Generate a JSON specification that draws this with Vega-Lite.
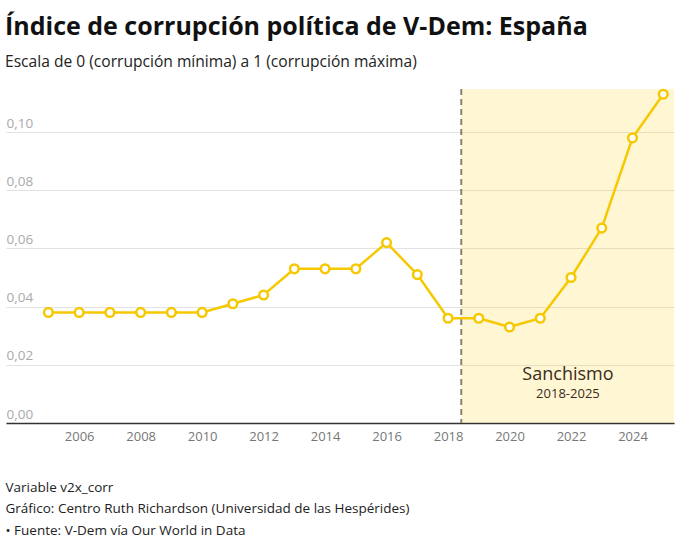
{
  "$schema": "https://vega.github.io/schema/vega-lite/v6.json",
  "autosize": {"type": "none"},
  "width": 668,
  "height": 334,
  "padding": {"left": 6, "top": 89, "right": 6, "bottom": 121},
  "background": "white",
  "config": {
    "font": "Open Sans",
    "view": {"stroke": null}
  },
  "title": {
    "text": "Índice de corrupción política de V-Dem: España",
    "subtitle": "Escala de 0 (corrupción mínima) a 1 (corrupción máxima)",
    "anchor": "start",
    "frame": "group",
    "font": "Open Sans",
    "fontSize": 25,
    "fontWeight": "bold",
    "color": "#111111",
    "subtitleFont": "Open Sans",
    "subtitleFontSize": 15.6,
    "subtitleColor": "#222222",
    "subtitlePadding": 15,
    "offset": 14,
    "dx": -1
  },
  "datasets": {
    "corr": [
      {"year": 2005, "value": 0.038},
      {"year": 2006, "value": 0.038},
      {"year": 2007, "value": 0.038},
      {"year": 2008, "value": 0.038},
      {"year": 2009, "value": 0.038},
      {"year": 2010, "value": 0.038},
      {"year": 2011, "value": 0.041},
      {"year": 2012, "value": 0.044},
      {"year": 2013, "value": 0.053},
      {"year": 2014, "value": 0.053},
      {"year": 2015, "value": 0.053},
      {"year": 2016, "value": 0.062},
      {"year": 2017, "value": 0.051},
      {"year": 2018, "value": 0.036},
      {"year": 2019, "value": 0.036},
      {"year": 2020, "value": 0.033},
      {"year": 2021, "value": 0.036},
      {"year": 2022, "value": 0.050},
      {"year": 2023, "value": 0.067},
      {"year": 2024, "value": 0.098},
      {"year": 2025, "value": 0.113}
    ],
    "periodo": [
      {"start": 2018.43, "end": 2025.35, "mid": 2021.9, "name": "Sanchismo", "years": "2018-2025"}
    ]
  },
  "layer": [
    {
      "data": {"name": "periodo"},
      "mark": {"type": "rect", "color": "#ffcc00", "opacity": 0.17},
      "encoding": {
        "x": {"field": "start", "type": "quantitative"},
        "x2": {"field": "end"}
      }
    },
    {
      "data": {"name": "periodo"},
      "mark": {"type": "rule", "color": "#8c8070", "strokeWidth": 2, "strokeDash": [6, 4]},
      "encoding": {
        "x": {"field": "start", "type": "quantitative"}
      }
    },
    {
      "data": {"name": "periodo"},
      "mark": {"type": "text", "fontSize": 18, "color": "#3b2b1c", "baseline": "alphabetic"},
      "encoding": {
        "x": {"field": "mid", "type": "quantitative"},
        "y": {"datum": 0.0148},
        "text": {"field": "name"}
      }
    },
    {
      "data": {"name": "periodo"},
      "mark": {"type": "text", "fontSize": 13, "color": "#3b2b1c", "baseline": "alphabetic"},
      "encoding": {
        "x": {"field": "mid", "type": "quantitative"},
        "y": {"datum": 0.0085},
        "text": {"field": "years"}
      }
    },
    {
      "data": {"name": "corr"},
      "mark": {
        "type": "line",
        "color": "#f6c800",
        "strokeWidth": 2.5,
        "point": {"filled": true, "fill": "white", "stroke": "#f6c800", "strokeWidth": 2.5, "size": 75}
      },
      "encoding": {
        "x": {
          "field": "year",
          "type": "quantitative",
          "scale": {"domain": [2003.62, 2025.35], "nice": false, "zero": false},
          "axis": {
            "values": [2006, 2008, 2010, 2012, 2014, 2016, 2018, 2020, 2022, 2024],
            "format": "d",
            "grid": false,
            "ticks": false,
            "domainColor": "#333333",
            "domainWidth": 1.5,
            "labelColor": "#777777",
            "labelFontSize": 13,
            "labelPadding": 7,
            "title": ["Variable v2x_corr", "Gráfico: Centro Ruth Richardson (Universidad de las Hespérides)", "• Fuente: V-Dem vía Our World in Data"],
            "titleAnchor": "start",
            "titleAlign": "left",
            "titleFontWeight": "normal",
            "titleFontSize": 13.5,
            "titleColor": "#222222",
            "titleLineHeight": 21.5,
            "titlePadding": 37,
            "titleX": -1
          }
        },
        "y": {
          "field": "value",
          "type": "quantitative",
          "scale": {"domain": [0, 0.1148], "nice": false},
          "axis": {
            "values": [0, 0.02, 0.04, 0.06, 0.08, 0.1],
            "labelExpr": "replace(format(datum.value, '.2f'), '.', ',')",
            "domain": false,
            "ticks": false,
            "grid": true,
            "gridColor": "#e2e2e2",
            "gridWidth": 1,
            "labelColor": "#aaaaaa",
            "labelFontSize": 13.5,
            "labelAlign": "left",
            "labelBaseline": "alphabetic",
            "labelPadding": 0,
            "labelOffset": -5,
            "title": null
          }
        }
      }
    }
  ]
}
